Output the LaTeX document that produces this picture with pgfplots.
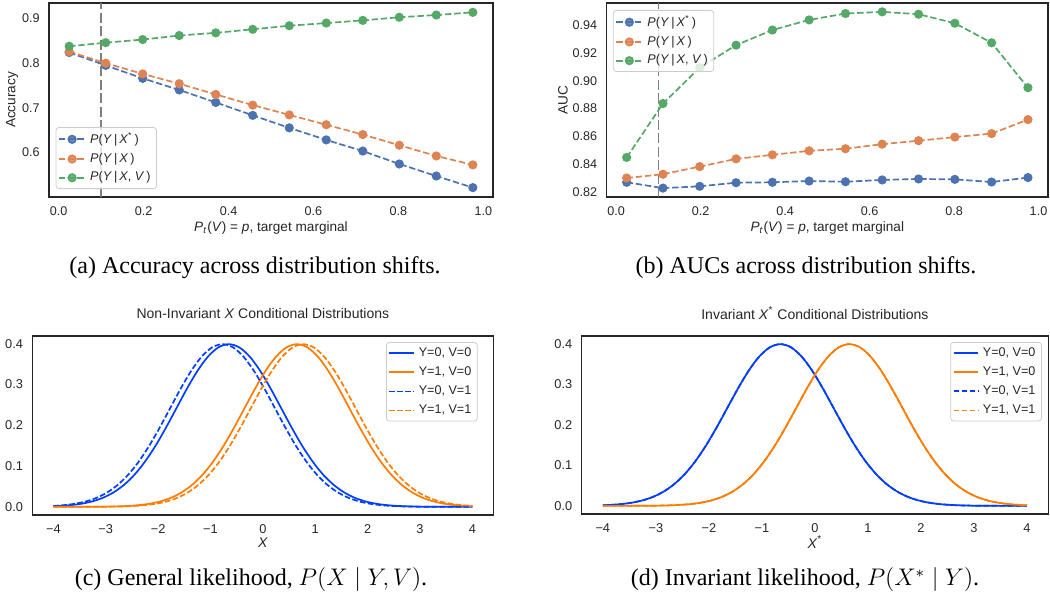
\documentclass[border=0pt]{standalone}
\usepackage{fontspec}
\setmainfont{Liberation Serif}
\setsansfont{Liberation Sans}
\usepackage{pgfplots}
\pgfplotsset{compat=1.18}
\usepackage{pgfplotstable}

\definecolor{dblue}{HTML}{4C72B0}
\definecolor{dorange}{HTML}{DD8452}
\definecolor{dgreen}{HTML}{55A868}
\definecolor{bblue}{HTML}{023EFF}
\definecolor{borange}{HTML}{FF7C00}
\definecolor{txt}{HTML}{262626}
\definecolor{vgray}{HTML}{7F7F7F}

\newcommand{\tfont}{\sffamily\fontsize{6.3}{7.5}\selectfont}
\newcommand{\lfont}{\sffamily\fontsize{6.8}{8}\selectfont}
\newcommand{\btfont}{\sffamily\fontsize{6.4}{7.6}\selectfont}
\newcommand{\blfont}{\sffamily\fontsize{7.0}{8.4}\selectfont}
\newcommand{\cfont}{\rmfamily\fontsize{12}{14}\selectfont}

\pgfplotstableread{
x     b      o      g
0.025 0.824 0.826 0.838
0.111 0.795 0.800 0.846
0.198 0.766 0.776 0.853
0.284 0.740 0.754 0.862
0.370 0.712 0.730 0.868
0.457 0.683 0.706 0.876
0.543 0.655 0.684 0.884
0.630 0.628 0.662 0.890
0.716 0.603 0.640 0.896
0.802 0.574 0.616 0.903
0.889 0.547 0.592 0.908
0.975 0.521 0.572 0.914
}\acctable

\pgfplotstableread{
x     b      o      g
0.025 0.8268 0.8299 0.8447
0.111 0.8226 0.8326 0.8836
0.198 0.8239 0.8381 0.9095
0.284 0.8265 0.8437 0.9257
0.370 0.8268 0.8466 0.9366
0.457 0.8277 0.8495 0.9439
0.543 0.8272 0.8510 0.9485
0.630 0.8285 0.8543 0.9497
0.716 0.8292 0.8568 0.9480
0.802 0.8289 0.8594 0.9415
0.889 0.8270 0.8619 0.9274
0.975 0.8302 0.8720 0.8950
}\auctable

% Y=0, V=0 (blue solid)
\pgfplotstableread{
x y
-4.00 0.00146
-3.85 0.00238
-3.65 0.00443
-3.45 0.00792
-3.25 0.01358
-3.05 0.02239
-2.85 0.03547
-2.65 0.05399
-2.45 0.07895
-2.25 0.11092
-2.05 0.14973
-1.85 0.19419
-1.65 0.24197
-1.45 0.28969
-1.25 0.33322
-1.05 0.36827
-0.85 0.39104
-0.65 0.39894
-0.45 0.39104
-0.25 0.36827
-0.05 0.33322
0.15 0.28969
0.35 0.24197
0.55 0.19419
0.75 0.14973
0.95 0.11092
1.15 0.07895
1.35 0.05399
1.55 0.03547
1.75 0.02239
1.95 0.01358
2.15 0.00792
2.35 0.00443
2.55 0.00238
2.75 0.00123
2.95 0.00061
3.15 0.00029
3.35 0.00013
3.55 0.00006
3.75 0.00002
4.00 0.00001
}\bzero

% Y=1, V=0 (orange solid)
\pgfplotstableread{
x y
-4.00 0.00001
-3.75 0.00002
-3.55 0.00006
-3.35 0.00013
-3.15 0.00029
-2.95 0.00061
-2.75 0.00123
-2.55 0.00238
-2.35 0.00443
-2.15 0.00792
-1.95 0.01358
-1.75 0.02239
-1.55 0.03547
-1.35 0.05399
-1.15 0.07895
-0.95 0.11092
-0.75 0.14973
-0.55 0.19419
-0.35 0.24197
-0.15 0.28969
0.05 0.33322
0.25 0.36827
0.45 0.39104
0.65 0.39894
0.85 0.39104
1.05 0.36827
1.25 0.33322
1.45 0.28969
1.65 0.24197
1.85 0.19419
2.05 0.14973
2.25 0.11092
2.45 0.07895
2.65 0.05399
2.85 0.03547
3.05 0.02239
3.25 0.01358
3.45 0.00792
3.65 0.00443
3.85 0.00238
4.00 0.00146
}\ozero

% Y=0, V=1 (blue dashed)
\pgfplotstableread{
x y
-4.00 0.00217
-3.77 0.00443
-3.57 0.00792
-3.37 0.01358
-3.17 0.02239
-2.97 0.03547
-2.77 0.05399
-2.57 0.07895
-2.37 0.11092
-2.17 0.14973
-1.97 0.19419
-1.77 0.24197
-1.57 0.28969
-1.37 0.33322
-1.17 0.36827
-0.97 0.39104
-0.77 0.39894
-0.57 0.39104
-0.37 0.36827
-0.17 0.33322
0.03 0.28969
0.23 0.24197
0.43 0.19419
0.63 0.14973
0.83 0.11092
1.03 0.07895
1.23 0.05399
1.43 0.03547
1.63 0.02239
1.83 0.01358
2.03 0.00792
2.23 0.00443
2.43 0.00238
2.63 0.00123
2.83 0.00061
3.03 0.00029
3.23 0.00013
3.43 0.00006
3.63 0.00002
3.83 0.00001
4.00 0.00001
}\bone

% Y=1, V=1 (orange dashed)
\pgfplotstableread{
x y
-4.00 0.00001
-3.83 0.00001
-3.63 0.00002
-3.43 0.00006
-3.23 0.00013
-3.03 0.00029
-2.83 0.00061
-2.63 0.00123
-2.43 0.00238
-2.23 0.00443
-2.03 0.00792
-1.83 0.01358
-1.63 0.02239
-1.43 0.03547
-1.23 0.05399
-1.03 0.07895
-0.83 0.11092
-0.63 0.14973
-0.43 0.19419
-0.23 0.24197
-0.03 0.28969
0.17 0.33322
0.37 0.36827
0.57 0.39104
0.77 0.39894
0.97 0.39104
1.17 0.36827
1.37 0.33322
1.57 0.28969
1.77 0.24197
1.97 0.19419
2.17 0.14973
2.37 0.11092
2.57 0.07895
2.77 0.05399
2.97 0.03547
3.17 0.02239
3.37 0.01358
3.57 0.00792
3.77 0.00443
4.00 0.00217
}\oone

\newcommand{\PYXs}{\textit{P}(\textit{Y}\,|\,\textit{X}\textsuperscript{*}\,)}
\newcommand{\PYX}{\textit{P}(\textit{Y}\,|\,\textit{X}\,)}
\newcommand{\PYXV}{\textit{P}(\textit{Y}\,|\,\textit{X}, \textit{V}\,)}
\newcommand{\ptlabel}{\textit{P}\textsubscript{\textit{t}}(\textit{V}) = \textit{p}, target marginal}

\pgfplotsset{
  base/.style={
    scale only axis,
    axis line style={draw=txt, line width=0.65pt},
    major tick length=0pt,
    tick style={draw=none},
    xticklabel style={anchor=north, inner sep=0pt, yshift=-4.5pt},
    yticklabel style={anchor=east, inner sep=0pt, xshift=-4.5pt},
    legend cell align=left,
    legend style={text=txt, draw=black!20, rounded corners=1.5pt,
      fill=white, fill opacity=0.8, text opacity=1, inner xsep=1pt, inner ysep=1.2pt,
      nodes={inner xsep=2pt, inner ysep=1.2pt}},
  },
  top/.style={
    base,
    font=\tfont,
    every tick label/.append style={text=txt, font=\tfont},
    label style={text=txt, font=\lfont},
    legend style={font=\tfont, row sep=0.9pt},
    legend image code/.code={\draw[mark repeat=2,mark phase=2,##1] plot coordinates {(0pt,0pt) (6.6pt,0pt) (13.2pt,0pt)};},
    width=222pt, height=97pt,
    xmin=-0.0225, xmax=1.0225,
    xtick={0,0.2,0.4,0.6,0.8,1.0},
    xticklabels={0.0,0.2,0.4,0.6,0.8,1.0},
    xlabel={\ptlabel},
    xlabel style={at={(axis description cs:0.5,-0.16)}, anchor=center},
  },
  bot/.style={
    base,
    font=\btfont,
    every tick label/.append style={text=txt, font=\btfont},
    label style={text=txt, font=\blfont},
    title style={text=txt, font=\blfont},
    legend style={font=\tfont, row sep=1.25pt},
    legend image code/.code={\draw[##1] (0pt,0pt) -- (12.3pt,0pt);},
    height=89.5pt,
    xmin=-4.4, xmax=4.4, ymin=-0.02, ymax=0.419,
    xtick={-4,-3,-2,-1,0,1,2,3,4},
    xticklabels={−4,−3,−2,−1,0,1,2,3,4},
    ytick={0,0.1,0.2,0.3,0.4},
    yticklabels={0.0,0.1,0.2,0.3,0.4},
    xlabel style={at={(axis description cs:0.5,-0.156)}, anchor=center},
    title style={at={(axis description cs:0.5,1.061)}, anchor=center},
  },
  ser/.style={#1, line width=0.85pt, dash pattern=on 3.2pt off 1.4pt, mark=*, mark size=1.85pt, mark options={solid, fill=#1, draw=#1}},
  cur/.style={#1, line width=0.85pt, smooth},
  curd/.style={#1, line width=0.85pt, smooth, dash pattern=on 2.8pt off 1.2pt},
}

\begin{document}
\begin{tikzpicture}
\path[use as bounding box] (0,0) rectangle (525pt,301.5pt);

% (a) Accuracy
\begin{axis}[top, at={(24.5pt,203pt)}, anchor=south west,
  ymin=0.5, ymax=0.935,
  ytick={0.6,0.7,0.8,0.9}, yticklabels={0.6,0.7,0.8,0.9},
  ylabel={Accuracy},
  ylabel style={at={(axis description cs:-0.083,0.5)}, anchor=center},
  legend style={at={(axis description cs:0.015,0.041)}, anchor=south west}]
\addplot[vgray, line width=0.75pt, dash pattern=on 5pt off 1.7pt, forget plot] coordinates {(0.1,0.5) (0.1,0.935)};
\addplot[ser=dblue] table[x=x, y=b] {\acctable};
\addlegendentry{\PYXs}
\addplot[ser=dorange] table[x=x, y=o] {\acctable};
\addlegendentry{\PYX}
\addplot[ser=dgreen] table[x=x, y=g] {\acctable};
\addlegendentry{\PYXV}
\end{axis}

% (b) AUC
\begin{axis}[top, at={(303.3pt,203pt)}, anchor=south west, width=220.7pt,
  ymin=0.8162, ymax=0.9561,
  ytick={0.82,0.84,0.86,0.88,0.90,0.92,0.94},
  yticklabels={0.82,0.84,0.86,0.88,0.90,0.92,0.94},
  ylabel={AUC},
  ylabel style={at={(axis description cs:-0.099,0.5)}, anchor=center},
  legend style={at={(axis description cs:0.0143,0.964)}, anchor=north west}]
\addplot[vgray, line width=0.75pt, dash pattern=on 5pt off 1.7pt, forget plot] coordinates {(0.1,0.8162) (0.1,0.9561)};
\addplot[ser=dblue] table[x=x, y=b] {\auctable};
\addlegendentry{\PYXs}
\addplot[ser=dorange] table[x=x, y=o] {\auctable};
\addlegendentry{\PYX}
\addplot[ser=dgreen] table[x=x, y=g] {\auctable};
\addlegendentry{\PYXV}
\end{axis}

% (c) Non-invariant
\begin{axis}[bot, at={(16.2pt,44pt)}, anchor=south west, width=230.5pt,
  title={Non-Invariant \textit{X} Conditional Distributions},
  xlabel={\textit{X}},
  legend style={at={(axis description cs:0.966,0.966)}, anchor=north east}]
\addplot[cur=bblue] table[x=x,y=y] {\bzero};
\addlegendentry{Y=0, V=0}
\addplot[cur=borange] table[x=x,y=y] {\ozero};
\addlegendentry{Y=1, V=0}
\addplot[curd=bblue] table[x=x,y=y] {\bone};
\addlegendentry{Y=0, V=1}
\addplot[curd=borange] table[x=x,y=y] {\oone};
\addlegendentry{Y=1, V=1}
\end{axis}

% (d) Invariant
\begin{axis}[bot, at={(290.8pt,44.5pt)}, anchor=south west, width=233.3pt, height=89pt,
  title={Invariant \textit{X}\textsuperscript{*} Conditional Distributions},
  xlabel={\textit{X}\textsuperscript{*}},
  legend style={at={(axis description cs:0.9865,0.966)}, anchor=north east}]
\addplot[cur=bblue] table[x=x,y=y] {\bzero};
\addlegendentry{Y=0, V=0}
\addplot[cur=borange] table[x=x,y=y] {\ozero};
\addlegendentry{Y=1, V=0}
\addplot[curd=bblue] table[x=x,y=y] {\bzero};
\addlegendentry{Y=0, V=1}
\addplot[curd=borange] table[x=x,y=y] {\ozero};
\addlegendentry{Y=1, V=1}
\end{axis}

\node[font=\cfont, anchor=center] at (127.5pt,167.5pt) {(a) Accuracy across distribution shifts.};
\node[font=\cfont, anchor=center] at (403pt,167.5pt) {(b) AUCs across distribution shifts.};
\node[font=\cfont, anchor=center] at (125.5pt,11.5pt) {(c) General likelihood, $P(X \mid Y, V)$.};
\node[font=\cfont, anchor=center] at (402.5pt,11.5pt) {(d) Invariant likelihood, $P(X^{*} \mid Y)$.};
\end{tikzpicture}
\end{document}
